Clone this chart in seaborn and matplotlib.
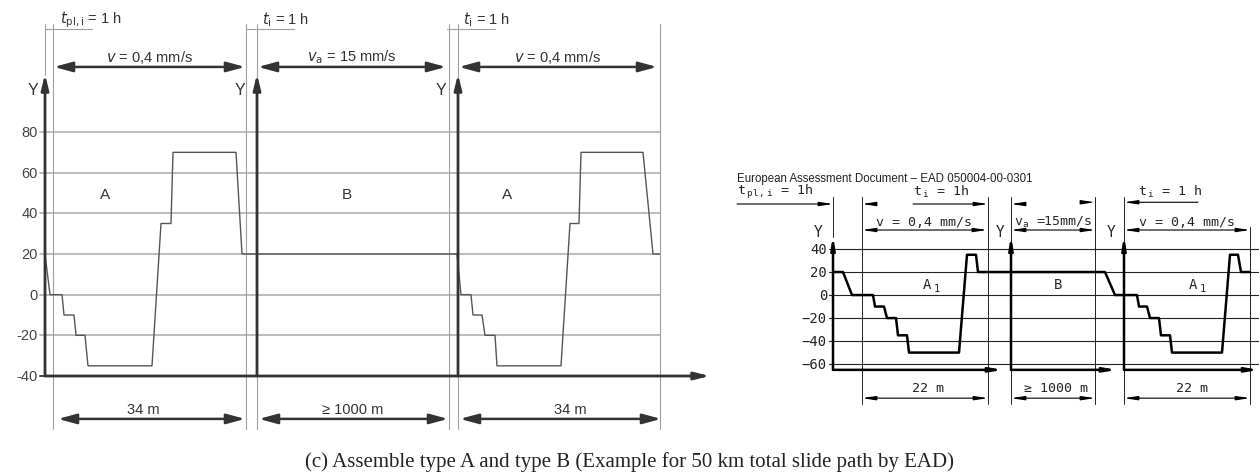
import matplotlib
matplotlib.use("Agg")
import matplotlib.pyplot as plt
import seaborn as sns

sns.set_style("white")
plt.rcParams['font.family'] = ['Liberation Sans', 'DejaVu Sans']
plt.rcParams['mathtext.fontset'] = 'custom'
plt.rcParams['mathtext.rm'] = 'DejaVu Sans Mono'
plt.rcParams['mathtext.it'] = 'DejaVu Sans Mono'

W, H = 1259, 477

# ---- left chart: type A + type B (temperature profile along the slide path)
left_pos = [0, 5, 17, 19, 29, 31, 40, 43, 107, 116, 126, 128, 191, 197,
            412, 416, 426, 428, 437, 440, 450, 452, 516, 525, 534, 536, 598, 608, 615]
left_temp = [20, 0, 0, -10, -10, -20, -20, -35, -35, 35, 35, 70, 70, 20,
             20, 0, 0, -10, -10, -20, -20, -35, -35, 35, 35, 70, 70, 20, 20]
left_ticks = [80, 60, 40, 20, 0, -20, -40]
left_axes_x = [0, 212, 413]
left_guides = [8, 201, 212, 404, 413, 615]
left_regions = ['A', 'B', 'A']
left_region_x = [60, 302, 462]
left_speed = [r'$\it{v}$ = 0,4 mm/s', r'$\it{v}_{\rm a}$ = 15 mm/s', r'$\it{v}$ = 0,4 mm/s']
left_speed_span = [(9, 200), (213, 401), (414, 612)]
left_hold = [r'$\it{t}_{\rm pl,i}$ = 1 h', r'$\it{t}_{\rm i}$ = 1 h', r'$\it{t}_{\rm i}$ = 1 h']
left_hold_x = [15, 217, 418]
left_hold_line = [(0, 47), (201, 249), (402, 450)]
left_length = ['34 m', '≥ 1000 m', '34 m']
left_length_span = [(13, 200), (214, 403), (415, 616)]
left_length_x = [98, 308, 525]

# ---- right chart: EAD 050004-00-0301 scheme
right_pos = [0, 10, 19, 40, 42, 51, 54, 63, 65, 74, 76, 126, 134, 143, 145,
             272, 282, 304, 306, 314, 317, 326, 328, 337, 339, 389, 397, 405, 408, 417]
right_temp = [20, 20, 0, 0, -10, -10, -20, -20, -35, -35, -50, -50, 35, 35, 20,
              20, 0, 0, -10, -10, -20, -20, -35, -35, -50, -50, 35, 35, 20, 20]
right_ticks = [40, 20, 0, -20, -40, -60]
right_axes_x = [0, 178, 291]
right_xaxis_span = [(0, 170), (178, 284), (291, 426)]
right_guides = [29, 155, 178, 262, 291, 417]
right_regions = ['A', 'B', 'A']
right_region_sub = ['1', '', '1']
right_region_x = [94, 225, 360]
right_speed = ['v = 0,4 mm/s', r'v$_{\rm a}$ =15mm/s', 'v = 0,4 mm/s']
right_speed_span = [(29, 154), (178, 262), (291, 417)]
right_hold = [r't$_{\rm\ pl,\ i}$ = 1h', r't$_{\rm\ i}$ = 1h', r't$_{\rm\ i}$ = 1 h']
right_hold_x = [-96, 80, 305]
right_length = ['22 m', '≥ 1000 m', '22 m']
right_length_span = [(29, 155), (178, 262), (291, 417)]
right_length_x = [95, 223, 359]


def rect(x0, x1, ytop, ybot):
    return [x0 / W, 1 - ybot / H, (x1 - x0) / W, (ybot - ytop) / H]


fig = plt.figure(figsize=(W / 100, H / 100), dpi=100)

# ================= left chart =================
ax = fig.add_axes(rect(45, 660, 133, 377))
ax.set_xlim(0, 615)
ax.set_ylim(-40, 80)
dark = '#333333'

for t in left_ticks:
    if t != -40:
        ax.plot([-5, 615], [t, t], color='#b8b8b8', lw=1.3, clip_on=False, zorder=1)
    else:
        ax.plot([-5, 0], [t, t], color=dark, lw=1.3, clip_on=False)
    ax.text(-7, t, str(t), ha='right', va='center', fontsize=10.5, color='#444444')

for gx in left_guides:
    ax.plot([gx, gx], [133.1, -66.1], color='#a0a0a0', lw=0.8, clip_on=False, zorder=1)
ax.plot([0, 0], [133.1, 108], color='#a0a0a0', lw=0.8, clip_on=False, zorder=1)

sns.lineplot(x=left_pos, y=left_temp, ax=ax, sort=False, estimator=None,
             color='#555555', lw=1.0, zorder=3)

yarrow = dict(arrowstyle='-|>,head_length=0.9,head_width=0.22', lw=2, color=dark,
              shrinkA=0, shrinkB=0)
for x0 in left_axes_x:
    ax.annotate('', xy=(x0, 108.5), xytext=(x0, -40), arrowprops=yarrow,
                annotation_clip=False, zorder=4)
ax.annotate('', xy=(665, -40), xytext=(0, -40), arrowprops=yarrow,
            annotation_clip=False, zorder=4)
for lab, x0 in zip(['Y', 'Y', 'Y'], [-12, 195, 396]):
    ax.text(x0, 101.1, lab, ha='center', va='center', fontsize=11.5, color=dark)

dim = dict(arrowstyle='<|-|>,head_length=1.1,head_width=0.3', lw=1.8, color=dark,
           shrinkA=0, shrinkB=0)
for lab, (a, b) in zip(left_speed, left_speed_span):
    ax.annotate('', xy=(b, 112), xytext=(a, 112), arrowprops=dim, annotation_clip=False)
    ax.text((a + b) / 2, 117.3, lab, ha='center', va='center', fontsize=10.5,
            color=dark, math_fontfamily='dejavusans')
for lab, x0, (a, b) in zip(left_hold, left_hold_x, left_hold_line):
    ax.plot([a, b], [130.7, 130.7], color='#a0a0a0', lw=0.8, clip_on=False)
    ax.text(x0, 135.8, lab, ha='left', va='center', fontsize=10.5, color=dark,
            math_fontfamily='dejavusans')
for lab, x0, (a, b) in zip(left_length, left_length_x, left_length_span):
    ax.annotate('', xy=(b, -61.1), xytext=(a, -61.1), arrowprops=dim, annotation_clip=False)
    ax.text(x0, -56.0, lab, ha='center', va='center', fontsize=10.5, color=dark)
for lab, x0 in zip(left_regions, left_region_x):
    ax.text(x0, 49.5, lab, ha='center', va='center', fontsize=11, color=dark)
ax.axis('off')

# ================= right chart =================
ax2 = fig.add_axes(rect(833, 1254, 250, 372))
ax2.set_xlim(0, 421)
ax2.set_ylim(-66, 40)
mono = 'DejaVu Sans Mono'

for t in right_ticks:
    ax2.plot([-4, 426], [t, t], color='#222222', lw=0.8, clip_on=False, zorder=1)
    ax2.text(-6, t, str(t).replace('-', '−'), ha='right', va='center', fontsize=10,
             family=mono, color='#222222')

for gx in right_guides:
    top = 59 if gx == 417 else 85.2
    ax2.plot([gx, gx], [top, -94.8], color='#222222', lw=0.7, clip_on=False, zorder=1)
ax2.plot([0, 0], [85.2, 50], color='#222222', lw=0.7, clip_on=False, zorder=1)

sns.lineplot(x=right_pos, y=right_temp, ax=ax2, sort=False, estimator=None,
             color='black', lw=1.8, zorder=3)

small = dict(arrowstyle='-|>,head_length=0.7,head_width=0.12', lw=1.8, color='black',
             shrinkA=0, shrinkB=0)
for x0 in right_axes_x:
    ax2.annotate('', xy=(x0, 51.5), xytext=(x0, -65), arrowprops=small,
                 annotation_clip=False, zorder=4)
for a, b in right_xaxis_span:
    ax2.annotate('', xy=(b, -65), xytext=(a, -65), arrowprops=small,
                 annotation_clip=False, zorder=4)
for x0 in [-15, 167, 278]:
    ax2.text(x0, 54.8, 'Y', ha='center', va='center', fontsize=10.5, family=mono)

thin = dict(arrowstyle='<|-|>,head_length=0.8,head_width=0.12', lw=0.8, color='black',
            shrinkA=0, shrinkB=0)
one = dict(arrowstyle='-|>,head_length=0.8,head_width=0.12', lw=0.8, color='black',
           shrinkA=0, shrinkB=0)
for lab, (a, b) in zip(right_speed, right_speed_span):
    ax2.annotate('', xy=(b, 56.5), xytext=(a, 56.5), arrowprops=thin, annotation_clip=False)
    ax2.text((a + b) / 2, 64.3, lab, ha='center', va='center', fontsize=9.5,
             family=mono, math_fontfamily='custom')
for lab, x0 in zip(right_hold, right_hold_x):
    ax2.text(x0, 90.4, lab, ha='left', va='center', fontsize=9.5, family=mono,
             math_fontfamily='custom')
# hold-time dimension marks
ax2.annotate('', xy=(0, 79.1), xytext=(-96, 79.1), arrowprops=one, annotation_clip=False)
ax2.annotate('', xy=(29, 79.1), xytext=(42, 79.1), arrowprops=one, annotation_clip=False)
ax2.annotate('', xy=(155, 79.1), xytext=(80, 79.1), arrowprops=one, annotation_clip=False)
ax2.annotate('', xy=(178, 79.1), xytext=(192, 79.1), arrowprops=one, annotation_clip=False)
ax2.annotate('', xy=(262, 80.6), xytext=(250, 80.6), arrowprops=one, annotation_clip=False)
ax2.annotate('', xy=(291, 80.6), xytext=(365, 80.6), arrowprops=one, annotation_clip=False)

for lab, x0, (a, b) in zip(right_length, right_length_x, right_length_span):
    ax2.annotate('', xy=(b, -89.6), xytext=(a, -89.6), arrowprops=thin, annotation_clip=False)
    ax2.text(x0, -80, lab, ha='center', va='center', fontsize=9.5, family=mono)
for lab, sub, x0 in zip(right_regions, right_region_sub, right_region_x):
    ax2.text(x0, 9.6, lab, ha='center', va='center', fontsize=10, family=mono)
    if sub:
        ax2.text(x0 + 10, 6.0, sub, ha='center', va='center', fontsize=7.5, family=mono)
ax2.text(-96, 101.7, 'European Assessment Document – EAD 050004-00-0301', ha='left',
         va='center', fontsize=8.3, color='#222222')
ax2.axis('off')

fig.text(0.5, 1 - 462 / H,
         '(c) Assemble type A and type B (Example for 50 km total slide path by EAD)',
         ha='center', va='center', fontsize=15, family='Liberation Serif', color='#222222')

fig.savefig('out.png', dpi=100)
